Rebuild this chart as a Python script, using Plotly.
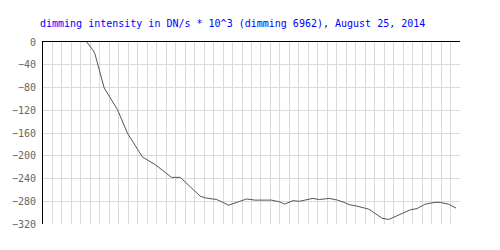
import plotly.graph_objects as go

# time position (grid units, 0..44) and dimming intensity (DN/s * 10^3)
t_pos = [4.61, 5.24, 5.48, 6.46, 7.86, 8.90, 10.48, 11.87, 12.57, 13.55, 14.49,
         15.71, 16.58, 17.11, 18.33, 18.86, 19.56, 20.61, 21.48, 22.35, 24.10,
         24.96, 25.49, 26.37, 27.06, 28.46, 29.16, 30.20, 31.08, 31.77, 32.30,
         33.00, 33.87, 34.39, 34.92, 35.80, 36.49, 37.19, 38.06, 38.76, 39.46,
         40.33, 41.38, 41.90, 42.77, 43.58]
dimming = [0, -13.5, -21, -81, -119, -160, -202, -216, -225, -238, -238,
           -257, -271, -274, -277, -281, -287, -281, -276, -278, -278,
           -281, -285, -279, -280, -275, -277, -275, -278, -282, -286,
           -288, -291, -294, -300, -310, -312, -307, -301, -295, -293,
           -285, -282, -282, -285, -292]
y_ticks = [0, -40, -80, -120, -160, -200, -240, -280, -320]
y_labels = ["0", "\u221240", "\u221280", "\u2212120", "\u2212160", "\u2212200",
            "\u2212240", "\u2212280", "\u2212320"]
title_text = "dimming intensity in DN/s * 10^3 (dimming 6962), August 25, 2014"

fig = go.Figure()
fig.add_trace(go.Scatter(x=t_pos, y=dimming, mode="lines",
                         line=dict(color="#555555", width=1),
                         hoverinfo="skip", showlegend=False))

fig.update_layout(
    width=500, height=250,
    margin=dict(l=40, r=40, t=42, b=26, pad=0),
    paper_bgcolor="white", plot_bgcolor="white",
    title=dict(text=title_text, x=40/500, xanchor="left", y=1 - 23/250,
               yanchor="middle",
               font=dict(family="DejaVu Sans Mono", size=10, color="#0000ff")),
    xaxis=dict(range=[0, 44], dtick=1, tick0=0, showticklabels=False,
               side="top", showline=True, linecolor="black", linewidth=1,
               showgrid=True, gridcolor="#dadada", gridwidth=1,
               zeroline=False, ticks=""),
    yaxis=dict(range=[-320, 0], tickvals=y_ticks, ticktext=y_labels,
               showline=True, linecolor="black", linewidth=1,
               showgrid=True, gridcolor="#dadada", gridwidth=1,
               zeroline=False, ticks="", ticklabelstandoff=4,
               tickfont=dict(family="DejaVu Sans Mono", size=10, color="#666666")),
)
fig.write_html("out.html")
